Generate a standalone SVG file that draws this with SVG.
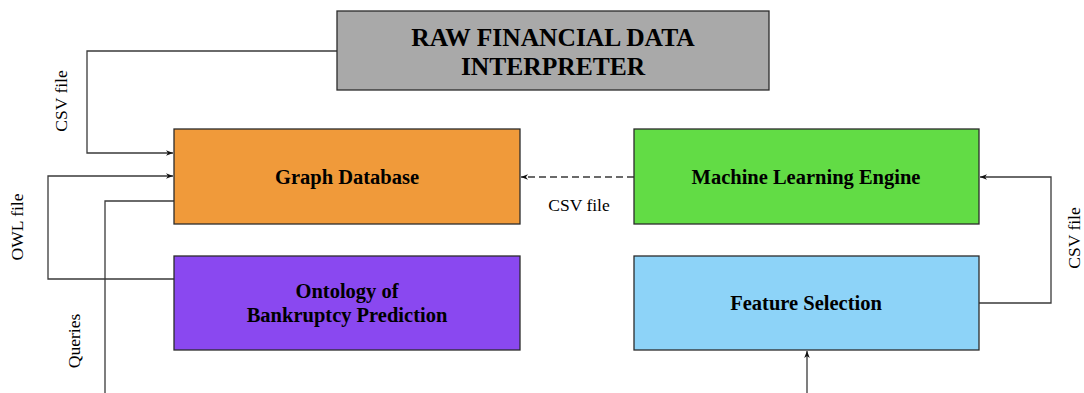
<svg xmlns="http://www.w3.org/2000/svg" width="1084" height="393" viewBox="0 0 1084 393">
<style>
.box{stroke:#2b2b2b;stroke-width:1.3}
.t{font-family:"Liberation Serif",serif;font-weight:bold;font-size:20.5px;fill:#000;text-anchor:middle}
.tt{font-family:"Liberation Serif",serif;font-weight:bold;font-size:25.5px;fill:#000;text-anchor:middle}
.l{font-family:"Liberation Serif",serif;font-size:17.5px;fill:#000;text-anchor:middle}
.c{fill:none;stroke:#3a3a3a;stroke-width:1.3}
</style>
<defs>
<marker id="a" viewBox="0 0 10 10" refX="10" refY="5" markerWidth="9" markerHeight="7" markerUnits="userSpaceOnUse" orient="auto">
<path d="M0,1 L10,5 L0,9 L3,5 Z" fill="#111"/>
</marker>
</defs>
<rect width="1084" height="393" fill="#fff"/>
<g id="connectors">
<path class="c" d="M337,51 H87 V153 H173" marker-end="url(#a)"/>
<path class="c" d="M174,279 H48 V176 H173" marker-end="url(#a)"/>
<path class="c" d="M174,201 H105 V393"/>
<path class="c" d="M634,177 H521" stroke-dasharray="7,4" marker-end="url(#a)"/>
<path class="c" d="M979,303 H1051 V177 H980" marker-end="url(#a)"/>
<path class="c" d="M807,393 V351" marker-end="url(#a)"/>
<text class="l" transform="translate(67,101) rotate(-90)">CSV file</text>
<text class="l" transform="translate(23,227) rotate(-90)">OWL file</text>
<text class="l" transform="translate(80,341) rotate(-90)">Queries</text>
<text class="l" x="579" y="211">CSV file</text>
<text class="l" transform="translate(1080,238) rotate(-90)">CSV file</text>
</g>
<g id="raw">
<rect class="box" x="337" y="11" width="432" height="79" fill="#a9a9a9"/>
<text class="tt" x="553" y="46">RAW FINANCIAL DATA</text>
<text class="tt" x="553" y="75">INTERPRETER</text>
</g>
<g id="graphdb">
<rect class="box" x="174" y="129" width="346" height="95" fill="#f09a3a"/>
<text class="t" x="347" y="184">Graph Database</text>
</g>
<g id="ontology">
<rect class="box" x="174" y="256" width="346" height="94" fill="#8a48f0"/>
<text class="t" x="347" y="298">Ontology of</text>
<text class="t" x="347" y="322">Bankruptcy Prediction</text>
</g>
<g id="ml">
<rect class="box" x="634" y="129" width="345" height="95" fill="#62dc45"/>
<text class="t" x="806" y="184">Machine Learning Engine</text>
</g>
<g id="feature">
<rect class="box" x="634" y="256" width="345" height="94" fill="#8dd3f8"/>
<text class="t" x="806" y="310">Feature Selection</text>
</g>
</svg>
